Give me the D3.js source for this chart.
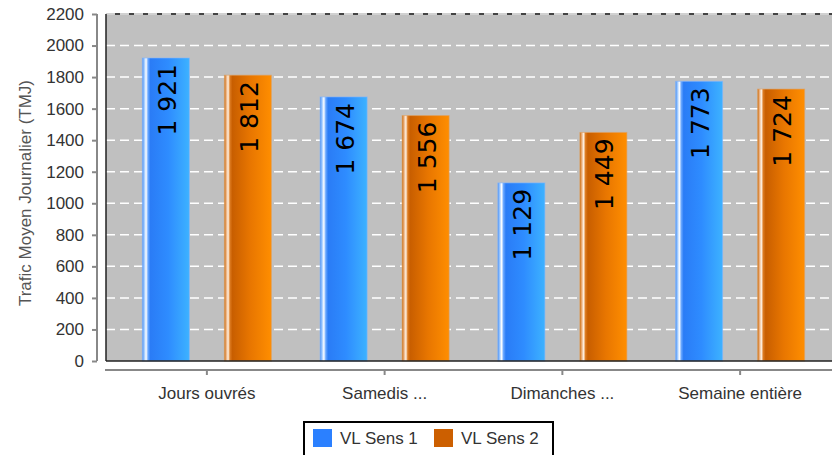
<!DOCTYPE html>
<head>
    <meta charset="utf-8">
    <style>
        body { margin: 0; background: #fff; }
        svg { display: block; }
        .tick-label, .cat-label, .legend-text, .axis-title {
            font-family: "Liberation Sans", Arial, sans-serif;
            font-size: 17px;
        }
        .value-label {
            font-family: "DejaVu Sans", sans-serif;
            font-size: 25px;
            fill: #000;
        }
    </style>
</head>
<svg width="832" height="455" class="bar-chart"></svg>
<script src="https://cdn.jsdelivr.net/npm/d3@7"></script>
<script>
    const categories = ["Jours ouvrés", "Samedis ...", "Dimanches ...", "Semaine entière"];
    const series = ["VL Sens 1", "VL Sens 2"];
    const sens1 = [1921, 1674, 1129, 1773];
    const sens2 = [1812, 1556, 1449, 1724];
    const yTicks = [0, 200, 400, 600, 800, 1000, 1200, 1400, 1600, 1800, 2000, 2200];

    const dataset = categories.map(function(c, i) {
        return {cat: c, values: [sens1[i], sens2[i]]};
    });

    var svg = d3.select(".bar-chart");
    var plot = {left: 106, top: 14, bottom: 361, right: 834};

    var x0 = d3.scaleBand().domain(categories).range([118, 829]).padding(0);
    var x1 = d3.scaleBand().domain(series).range([0, x0.bandwidth()])
            .paddingInner(0.427).paddingOuter(0.297);
    var y = d3.scaleLinear().domain([0, 2200]).range([plot.bottom, plot.top]);

    var fr = d3.formatLocale({decimal: ",", thousands: " ", grouping: [3], currency: ["", "€"]});
    var fmt = fr.format(",d");

    var defs = svg.append("defs");
    function grad(id, stops) {
        var g = defs.append("linearGradient").attr("id", id)
                .attr("x1", "0%").attr("x2", "100%").attr("y1", "0%").attr("y2", "0%");
        stops.forEach(function(s) {
            g.append("stop").attr("offset", s[0]).attr("stop-color", s[1]);
        });
    }
    grad("g-blue", [["0%", "#4a8ef0"], ["4%", "#9cc8ff"], ["8%", "#ffffff"], ["12%", "#6aa8ff"],
        ["17%", "#2a7cf6"], ["55%", "#2e8cff"], ["100%", "#3db2ff"]]);
    grad("g-orange", [["0%", "#c86400"], ["4%", "#eab080"], ["8%", "#fff2e4"], ["12%", "#dc7a20"],
        ["17%", "#c85e00"], ["55%", "#e87600"], ["100%", "#ff8e00"]]);
    var fills = ["url(#g-blue)", "url(#g-orange)"];
    var swatches = ["#2b80ff", "#cc5f00"];

    // plot background
    svg.append("rect")
            .attr("x", plot.left).attr("y", plot.top)
            .attr("width", plot.right - plot.left).attr("height", plot.bottom - plot.top)
            .attr("fill", "#c0c0c0");
    svg.append("line")
            .attr("x1", plot.left).attr("x2", plot.right)
            .attr("y1", plot.top).attr("y2", plot.top)
            .attr("stroke", "#444").attr("stroke-width", 2);

    // grid
    svg.append("g").selectAll("line")
            .data(yTicks.filter(function(d) { return d > 0; }))
            .enter().append("line")
            .attr("x1", plot.left).attr("x2", plot.right)
            .attr("y1", function(d) { return y(d); })
            .attr("y2", function(d) { return y(d); })
            .attr("stroke", "#fff").attr("stroke-width", 1.5)
            .attr("stroke-dasharray", "9,5");

    // bars
    var groups = svg.append("g").selectAll("g")
            .data(dataset)
            .enter().append("g")
            .attr("transform", function(d) { return "translate(" + x0(d.cat) + ",0)"; });

    groups.selectAll("rect")
            .data(function(d) { return d.values.map(function(v, i) { return {s: series[i], v: v, i: i}; }); })
            .enter().append("rect")
            .attr("x", function(d) { return x1(d.s); })
            .attr("y", function(d) { return y(d.v); })
            .attr("width", x1.bandwidth())
            .attr("height", function(d) { return plot.bottom - y(d.v); })
            .attr("fill", function(d) { return fills[d.i]; })
            .attr("stroke", function(d) { return d.i === 0 ? "#7fb4ff" : "#e0a060"; })
            .attr("stroke-opacity", 0.6)
            .attr("stroke-width", 1);

    groups.selectAll("text")
            .data(function(d) { return d.values.map(function(v, i) { return {s: series[i], v: v, i: i}; }); })
            .enter().append("text")
            .attr("class", "value-label")
            .attr("text-anchor", "end")
            .attr("dy", "0.36em")
            .attr("transform", function(d) {
                var cx = x1(d.s) + x1.bandwidth() / 2 + 1;
                return "translate(" + cx + "," + (y(d.v) + 6) + ") rotate(-90)";
            })
            .text(function(d) { return fmt(d.v); });

    // plot borders
    svg.append("line")
            .attr("x1", plot.left).attr("x2", plot.left)
            .attr("y1", plot.top).attr("y2", plot.bottom)
            .attr("stroke", "#222").attr("stroke-width", 1.5);
    svg.append("line")
            .attr("x1", plot.left).attr("x2", plot.right)
            .attr("y1", plot.bottom).attr("y2", plot.bottom)
            .attr("stroke", "#222").attr("stroke-width", 1.5);

    // y axis
    var yAxis = svg.append("g")
            .attr("transform", "translate(97,0)")
            .call(d3.axisLeft(y).tickValues(yTicks).tickSize(5).tickPadding(8).tickFormat(d3.format("d")));
    yAxis.select(".domain").attr("stroke", "#888").attr("stroke-width", 2)
            .attr("d", "M0," + plot.top + "V" + plot.bottom);
    yAxis.selectAll(".tick line").attr("stroke", "#888").attr("stroke-width", 2);
    yAxis.selectAll(".tick text").attr("class", "tick-label").attr("fill", "#333");
    yAxis.attr("font-size", null).attr("font-family", null);

    // x axis
    var xAxis = svg.append("g")
            .attr("transform", "translate(0,370)")
            .call(d3.axisBottom(x0).tickSize(5).tickPadding(12));
    xAxis.select(".domain").attr("stroke", "#888").attr("stroke-width", 2)
            .attr("d", "M105,0H" + plot.right);
    xAxis.selectAll(".tick line").attr("stroke", "#888").attr("stroke-width", 2);
    xAxis.selectAll(".tick text").attr("class", "cat-label").attr("fill", "#333");
    xAxis.attr("font-size", null).attr("font-family", null);

    // y axis title
    svg.append("text")
            .attr("class", "axis-title")
            .attr("transform", "translate(31,193) rotate(-90)")
            .attr("text-anchor", "middle")
            .attr("fill", "#555")
            .text("Trafic Moyen Journalier (TMJ)");

    // legend
    var legend = svg.append("g");
    legend.append("rect")
            .attr("x", 304).attr("y", 422).attr("width", 249).attr("height", 40)
            .attr("fill", "#fff").attr("stroke", "#000").attr("stroke-width", 2);
    var items = legend.selectAll("g.item")
            .data(series)
            .enter().append("g")
            .attr("class", "item")
            .attr("transform", function(d, i) { return "translate(" + (313 + i * 121) + ",429)"; });
    items.append("rect")
            .attr("width", 19).attr("height", 18)
            .attr("fill", function(d, i) { return swatches[i]; });
    items.append("text")
            .attr("class", "legend-text")
            .attr("x", 27).attr("y", 15)
            .attr("fill", "#333")
            .text(function(d) { return d; });
</script>
